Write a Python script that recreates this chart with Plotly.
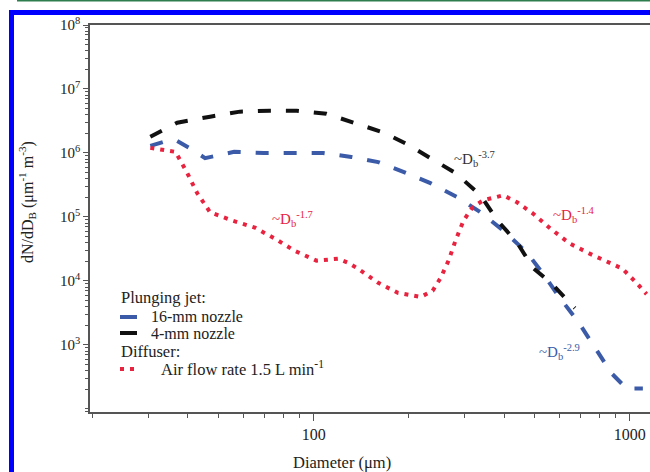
import plotly.graph_objects as go

# ---- data ----
d_black = [30.4, 37, 47, 58.4, 72.6, 88.3, 109.7, 141, 167, 199, 230, 281, 337, 381, 440, 494, 567, 670]
v_black = [1.79e6, 2.97e6, 3.69e6, 4.42e6, 4.58e6, 4.58e6, 4.1e6, 2.76e6, 2.07e6, 1.34e6, 8.65e5,
           4.84e5, 2.18e5, 8.8e4, 3.97e4, 1.6e4, 8.97e3, 3.76e3]

d_blue = [30.4, 34.4, 36.5, 40.4, 45.3, 56, 69.5, 86, 107, 131.5, 160, 193, 234, 285, 337, 398,
          473, 532, 601, 685, 786, 877, 977, 1100]
v_blue = [1.29e6, 1.55e6, 1.6e6, 1.2e6, 8.3e5, 1.04e6, 1.0e6, 1.0e6, 1.0e6, 8.65e5, 7.2e5, 5.0e5,
          3.37e5, 2.03e5, 1.18e5, 6.1e4, 2.76e4, 1.29e4, 5.4e3, 2.34e3, 849, 356, 207, 207]

d_red = [30.4, 33.7, 36.5, 39.8, 42.8, 47, 55.1, 65.1, 75.2, 86.9, 102, 119.7, 128.5, 138, 160,
         184.6, 218, 237.8, 252, 267, 281, 298, 318, 344, 398, 440, 494, 560, 646, 747, 863,
         948, 1050, 1130]
v_red = [1.2e6, 1.11e6, 1.04e6, 4.84e5, 2.34e5, 1.18e5, 8.8e4, 6.8e4, 4.6e4, 2.96e4, 2.07e4,
         2.22e4, 1.92e4, 1.55e4, 9.3e3, 6.5e3, 5.6e3, 7e3, 1.11e4, 2.07e4, 4.27e4, 8.8e4, 1.41e5,
         1.82e5, 2.18e5, 1.69e5, 1.13e5, 6.6e4, 3.83e4, 2.66e4, 1.92e4, 1.55e4, 9.3e3, 6.2e3]

y_tickvals = [1e3, 1e4, 1e5, 1e6, 1e7, 1e8]
y_ticktext = ["10<sup>3</sup>", "10<sup>4</sup>", "10<sup>5</sup>", "10<sup>6</sup>",
              "10<sup>7</sup>", "10<sup>8</sup>"]
x_tickvals = [100, 1000]
x_ticktext = ["100", "1000"]

legend_headers = ["Plunging jet:", "Diffuser:"]
series_names = ["16-mm nozzle", "4-mm nozzle", "Air flow rate 1.5 L min<sup>-1</sup>"]

FONT = "Liberation Serif, Times New Roman, serif"
BLUE = "#3b5ba9"
BLACK = "#111111"
RED = "#e8233f"
TXT = "#222222"
DASH = "13px,15px"
DOT = "4px,6px"

fig = go.Figure()
fig.add_trace(go.Scatter(x=d_blue, y=v_blue, mode="lines", name=series_names[0],
                         line=dict(color=BLUE, width=4, dash=DASH)))
fig.add_trace(go.Scatter(x=d_black, y=v_black, mode="lines", name=series_names[1],
                         line=dict(color=BLACK, width=4, dash=DASH)))
fig.add_trace(go.Scatter(x=d_red, y=v_red, mode="lines", name=series_names[2],
                         line=dict(color=RED, width=4, dash=DOT)))

L, T, R, B = 90, 25, 0, 60
W, H = 650, 472
pw, ph = W - L - R, H - T - B


def px(x):
    return (x - L) / pw


def py(y):
    return (H - B - y) / ph


def text_ann(text, x, y, size, color=TXT, xanchor="left", angle=0):
    return dict(text=text, x=px(x), y=py(y), xref="paper", yref="paper",
                xanchor=xanchor, yanchor="middle", showarrow=False, textangle=angle,
                font=dict(family=FONT, size=size, color=color))


annotations = [
    text_ann("~D<sub>b</sub><sup>-1.7</sup>", 270, 219, 15, RED),
    text_ann("~D<sub>b</sub><sup>-3.7</sup>", 452, 159, 15, "#333333"),
    text_ann("~D<sub>b</sub><sup>-1.4</sup>", 551, 215, 15, RED),
    text_ann("~D<sub>b</sub><sup>-2.9</sup>", 537, 352, 15, BLUE),
    text_ann("Diameter (μm)", 342, 462, 16.5, xanchor="center"),
    text_ann("dN/dD<sub>B</sub> (μm<sup>-1</sup> m<sup>-3</sup>)", 27, 202, 16, xanchor="center", angle=-90),
    # legend
    text_ann(legend_headers[0], 119, 297, 16.5),
    text_ann(series_names[0], 149, 316.5, 16),
    text_ann(series_names[1], 149, 333.5, 16),
    text_ann(legend_headers[1], 119, 351, 16.5),
    text_ann(series_names[2], 159, 368, 16.5),
]

shapes = [
    # blue outer frame
    dict(type="line", xref="paper", yref="paper", x0=px(11.5), x1=px(11.5), y0=py(12.5), y1=py(480),
         line=dict(color="#0000ff", width=5)),
    dict(type="line", xref="paper", yref="paper", x0=px(9), x1=px(660), y0=py(12.5), y1=py(12.5),
         line=dict(color="#0000ff", width=5)),
    # green top rule
    dict(type="line", xref="paper", yref="paper", x0=px(17), x1=px(660), y0=py(0.8), y1=py(0.8),
         line=dict(color="#2e7d4f", width=1.6)),
    # legend keys
    dict(type="line", xref="paper", yref="paper", x0=px(120), x1=px(137), y0=py(317), y1=py(317),
         line=dict(color=BLUE, width=4)),
    dict(type="line", xref="paper", yref="paper", x0=px(120), x1=px(137), y0=py(333), y1=py(333),
         line=dict(color=BLACK, width=4)),
    dict(type="line", xref="paper", yref="paper", x0=px(120), x1=px(135), y0=py(369), y1=py(369),
         line=dict(color=RED, width=4, dash=DOT)),
]

fig.update_layout(
    width=W, height=H,
    margin=dict(l=L, r=R, t=T, b=B),
    paper_bgcolor="white", plot_bgcolor="white",
    font=dict(family=FONT, size=14, color=TXT),
    showlegend=False,
    annotations=annotations,
    shapes=shapes,
)
fig.update_xaxes(type="log", range=[1.292, 3.064], showgrid=False, zeroline=False,
                 showline=True, linecolor="#555", linewidth=1.5, mirror=True,
                 tickmode="array", tickvals=x_tickvals, ticktext=x_ticktext,
                 ticks="outside", ticklen=7, tickcolor="#555", tickwidth=1,
                 tickfont=dict(family=FONT, size=16, color=TXT), automargin=False,
                 minor=dict(ticks="outside", ticklen=4, tickcolor="#555", dtick="D1", showgrid=False))
fig.update_yaxes(type="log", range=[1.95, 8.0], showgrid=False, zeroline=False,
                 showline=True, linecolor="#555", linewidth=1.5, mirror=False,
                 tickmode="array", tickvals=y_tickvals, ticktext=y_ticktext,
                 ticks="outside", ticklen=5, tickcolor="#555", tickwidth=1,
                 tickfont=dict(family=FONT, size=15, color=TXT), automargin=False,
                 minor=dict(ticks="outside", ticklen=3, tickcolor="#555", dtick="D1", showgrid=False))

fig.write_html("out.html", config={"displayModeBar": False},
               post_script="document.body.style.margin='0px';")
